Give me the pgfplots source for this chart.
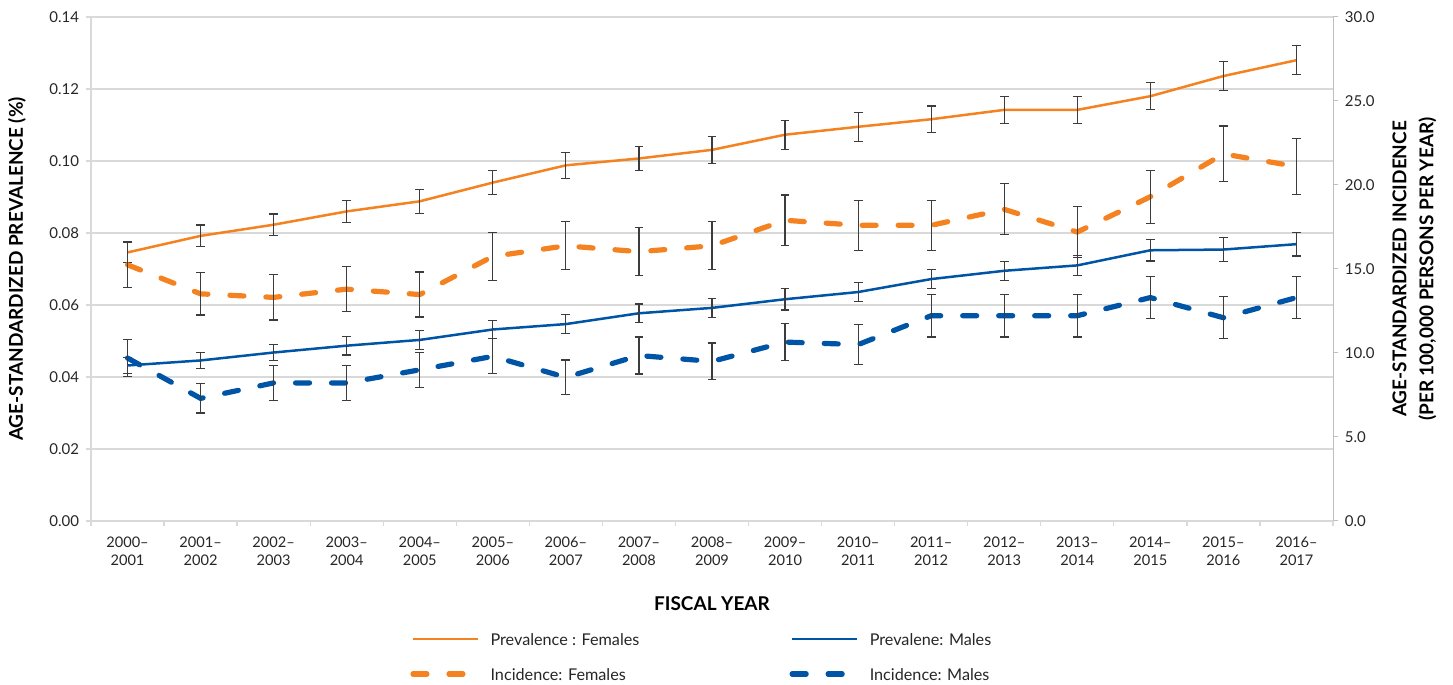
\documentclass[border=0pt]{standalone}
\usepackage{pgfplots}
\pgfplotsset{compat=1.18}
\usepackage{pgfplotstable}
\usepackage{fontspec}
\setmainfont{Lato}
\definecolor{cOrange}{RGB}{245,130,32}
\definecolor{cBlue}{RGB}{0,84,166}
\definecolor{cGrid}{RGB}{217,217,217}
\definecolor{cAxis}{RGB}{191,191,191}
\definecolor{cErr}{RGB}{60,60,60}
\definecolor{cText}{RGB}{38,38,38}

\pgfplotstableread{
x y e
0 0.0746 0.0027
1 0.0792 0.0030
2 0.0823 0.0030
3 0.0860 0.0030
4 0.0888 0.0033
5 0.0940 0.0033
6 0.0988 0.0036
7 0.1007 0.0034
8 0.1031 0.0037
9 0.1073 0.0040
10 0.1095 0.0040
11 0.1116 0.0037
12 0.1142 0.0037
13 0.1142 0.0037
14 0.1180 0.0037
15 0.1236 0.0040
16 0.1280 0.0040
}\prevF

\pgfplotstableread{
x y e
0 0.0432 0.0022
1 0.0446 0.0023
2 0.0468 0.0022
3 0.0487 0.0026
4 0.0503 0.0026
5 0.0532 0.0026
6 0.0547 0.0026
7 0.0577 0.0026
8 0.0592 0.0026
9 0.0616 0.0030
10 0.0636 0.0026
11 0.0672 0.0026
12 0.0695 0.0026
13 0.0710 0.0027
14 0.0752 0.0030
15 0.0754 0.0033
16 0.0769 0.0033
}\prevM

\pgfplotstableread{
x y e
0 15.25 1.37
1 13.52 1.26
2 13.31 1.35
3 13.80 1.35
4 13.48 1.34
5 15.75 1.43
6 16.38 1.43
7 16.03 1.42
8 16.38 1.43
9 17.90 1.50
10 17.60 1.50
11 17.60 1.50
12 18.55 1.52
13 17.20 1.50
14 19.30 1.58
15 21.85 1.66
16 21.10 1.67
}\incF

\pgfplotstableread{
x y e
0 9.70 1.11
1 7.30 0.87
2 8.22 1.03
3 8.22 1.03
4 9.00 1.03
5 9.80 1.04
6 8.55 1.03
7 9.85 1.10
8 9.50 1.10
9 10.65 1.10
10 10.50 1.19
11 12.22 1.27
12 12.22 1.27
13 12.22 1.27
14 13.30 1.26
15 12.10 1.26
16 13.30 1.26
}\incM

\pgfplotsset{
  errstyle/.style={
    /pgfplots/error bars/y dir=both, /pgfplots/error bars/y explicit,
    /pgfplots/error bars/error bar style={line width=0.6pt, draw=cErr, solid, line cap=butt},
    /pgfplots/error bars/error mark options={rotate=90, mark size=2.2pt, line width=0.6pt, draw=cErr, solid, line cap=butt}
  },
  common/.style={
    at={(0pt,0pt)}, anchor=south west,
    scale only axis, width=621pt, height=252pt,
    xmin=-0.5, xmax=16.5,
    /pgf/number format/assume math mode=true,
    tick align=outside,
    major tick length=2.4pt, minor tick length=2.5pt,
  },
  solidline/.style={line width=1.25pt, mark=none},
  dashline/.style={line width=2.6pt, mark=none, dash pattern=on 7pt off 11pt, line cap=round},
}

\begin{document}
\begin{tikzpicture}
\path[use as bounding box] (-45.5pt,-82pt) rectangle (681pt,260.5pt);
\begin{axis}[
  common,
  ymin=0, ymax=0.14,
  axis x line*=bottom, axis y line*=left,
  axis line style={draw=cGrid, line width=0.65pt},
  ymajorgrids, major grid style={draw=cGrid, line width=0.65pt},
  ytick={0,0.02,0.04,0.06,0.08,0.10,0.12,0.14},
  yticklabel style={/pgf/number format/fixed, /pgf/number format/fixed zerofill, /pgf/number format/precision=2, font=\fontsize{7.5}{9}\selectfont, text=cText},
  ytick style={draw=cGrid, line width=0.65pt},
  xtick={0,1,2,3,4,5,6,7,8,9,10,11,12,13,14,15,16},
  xticklabels={{2000\textendash\\2001},{2001\textendash\\2002},{2002\textendash\\2003},{2003\textendash\\2004},{2004\textendash\\2005},{2005\textendash\\2006},{2006\textendash\\2007},{2007\textendash\\2008},{2008\textendash\\2009},{2009\textendash\\2010},{2010\textendash\\2011},{2011\textendash\\2012},{2012\textendash\\2013},{2013\textendash\\2014},{2014\textendash\\2015},{2015\textendash\\2016},{2016\textendash\\2017}},
  xticklabel style={align=center, font=\fontsize{7.3}{9}\selectfont, text=cText, yshift=-2pt},
  major x tick style={draw=none},
  minor xtick={-0.5,0.5,1.5,2.5,3.5,4.5,5.5,6.5,7.5,8.5,9.5,10.5,11.5,12.5,13.5,14.5,15.5,16.5},
  minor x tick style={draw=cGrid, line width=0.65pt},
  xlabel={FISCAL YEAR},
  xlabel style={at={(axis description cs:0.5,-0.1647)}, anchor=center, font=\bfseries\fontsize{9.5}{11}\selectfont, text=black},
  ylabel={AGE-STANDARDIZED PREVALENCE (\%)},
  ylabel style={at={(axis description cs:-0.0596,0.5)}, anchor=center, font=\bfseries\fontsize{9.5}{11}\selectfont, text=black},
]
\addplot[cOrange, solidline, errstyle] table[x=x, y=y, y error=e]{\prevF};
\addplot[cBlue, solidline, errstyle] table[x=x, y=y, y error=e]{\prevM};
\end{axis}

\begin{axis}[
  common,
  ymin=0, ymax=30,
  axis x line=none, axis y line*=right,
  axis line style={draw=cAxis, line width=0.5pt},
  ytick={0,5,10,15,20,25,30},
  yticklabel style={/pgf/number format/fixed, /pgf/number format/fixed zerofill, /pgf/number format/precision=1, font=\fontsize{7.5}{9}\selectfont, text=cText},
  ytick style={draw=cAxis, line width=0.5pt},
  ylabel={AGE-STANDARDIZED INCIDENCE\\(PER 100,000 PERSONS PER YEAR)},
  ylabel style={at={(axis description cs:1.0656,0.5)}, anchor=center, align=center, font=\bfseries\fontsize{9.5}{13.5}\selectfont, text=black},
  legend image code/.code={\draw[#1] (0pt,0pt) -- (32.5pt,0pt);},
  legend columns=2,
  legend style={at={(axis description cs:0.2568,-0.2688)}, anchor=west, draw=none, fill=none, inner sep=0pt,
    column sep=5pt, row sep=11.3pt, font=\fontsize{8.1}{10}\selectfont, text=cText,
    nodes={inner sep=0pt, text height=6.2pt, text depth=0pt}, cells={anchor=west}},
]
\addplot[cOrange, dashline, forget plot, errstyle] table[x=x, y=y, y error=e]{\incF};
\addplot[cBlue, dashline, forget plot, errstyle] table[x=x, y=y, y error=e]{\incM};
\addlegendimage{cOrange, line width=1.25pt}
\addlegendentry{\makebox[144.5pt][l]{Prevalence : Females}}
\addlegendimage{cBlue, line width=1.25pt}
\addlegendentry{Prevalene: Males}
\addlegendimage{cOrange, line width=2.6pt, dash pattern=on 7pt off 11pt, line cap=round}
\addlegendentry{\makebox[144.5pt][l]{Incidence: Females}}
\addlegendimage{cBlue, line width=2.6pt, dash pattern=on 7pt off 11pt, line cap=round}
\addlegendentry{Incidence: Males}
\end{axis}
\end{tikzpicture}
\end{document}
